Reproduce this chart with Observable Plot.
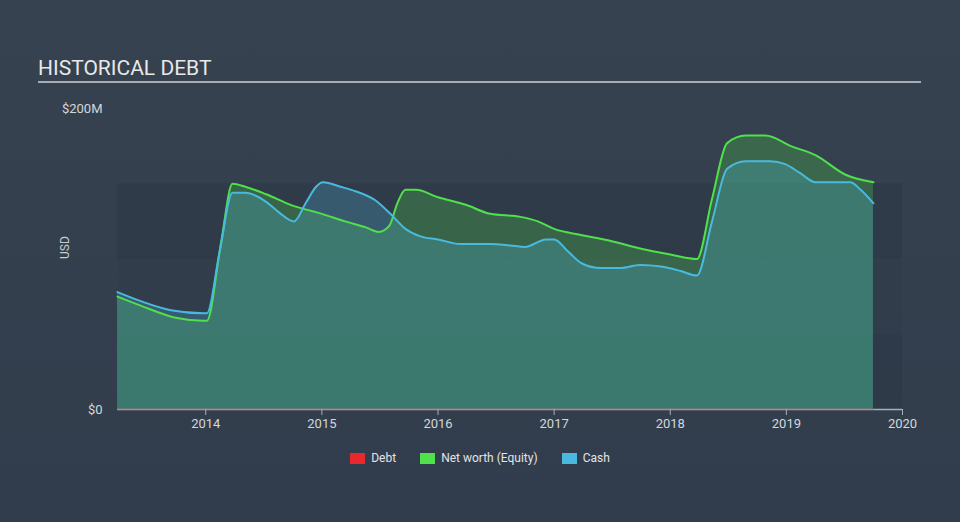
<!DOCTYPE html>
<html>
<head>
<meta charset="utf-8">
<script src="https://cdn.jsdelivr.net/npm/d3@7"></script>
<script src="https://cdn.jsdelivr.net/npm/@observablehq/plot@0.6"></script>
<style>
  html, body { margin: 0; padding: 0; }
  body { width: 960px; height: 522px; overflow: hidden; font-family: Roboto, "Noto Sans", sans-serif; }
  #wrap { position: relative; width: 960px; height: 522px; background: linear-gradient(#36424f, #313d4c); }
  #title { position: absolute; left: 38px; top: 56px; width: 883px; font-size: 21px; line-height: 24px; color: #e8e8e8; border-bottom: 2px solid #a9adb3; padding-bottom: 1px; }
  #chart { position: absolute; left: 0; top: 90px; }
  #legend { position: absolute; top: 451px; left: 0; width: 960px; display: flex; justify-content: center; font-size: 12px; color: #e2e4e6; }
  .item { display: flex; align-items: center; margin: 0 12px 0 12px; }
  .sw { width: 15px; height: 11px; margin-right: 6px; }
</style>
</head>
<body>
<div id="wrap">
  <div id="title">HISTORICAL DEBT</div>
  <div id="chart"></div>
  <div id="legend"></div>
</div>
<script>
// Data (years as decimal, values in $M)
const cashYears = [2013.24, 2013.44, 2013.70, 2013.98, 2014.01, 2014.12, 2014.23, 2014.34, 2014.52, 2014.63, 2014.76, 2014.86, 2014.95, 2015.01, 2015.16, 2015.29, 2015.46, 2015.59, 2015.72, 2015.85, 2016.00, 2016.19, 2016.45, 2016.62, 2016.75, 2016.93, 2017.00, 2017.12, 2017.24, 2017.40, 2017.57, 2017.74, 2017.92, 2018.09, 2018.23, 2018.36, 2018.49, 2018.65, 2018.86, 2018.99, 2019.12, 2019.25, 2019.42, 2019.55, 2019.64, 2019.75];
const cashValues = [78, 72, 66, 64, 64, 105, 144, 144, 138, 131, 125, 137, 148, 151, 148, 145, 139, 130, 120, 115, 113, 110, 110, 109, 108, 113, 113, 105, 97, 94, 94, 96, 95, 92, 89, 125, 160, 165, 165, 163, 157, 151, 151, 151, 146, 137];

const equityYears = [2013.24, 2013.44, 2013.74, 2013.98, 2014.01, 2014.13, 2014.23, 2014.34, 2014.52, 2014.73, 2015.00, 2015.20, 2015.38, 2015.49, 2015.58, 2015.65, 2015.72, 2015.81, 2016.00, 2016.24, 2016.45, 2016.71, 2016.86, 2017.00, 2017.23, 2017.49, 2017.74, 2018.00, 2018.23, 2018.36, 2018.49, 2018.65, 2018.82, 2019.04, 2019.25, 2019.51, 2019.75];
const equityValues = [75, 69, 61, 59, 59, 110, 150, 148, 143, 136, 130, 125, 121, 118, 122, 137, 146, 146, 141, 136, 130, 128, 125, 120, 116, 112, 107, 103, 100, 140, 177, 182, 182, 175, 169, 156, 151];

const debtYears = [2013.24, 2019.75];
const debtValues = [0, 0];

const xTicks = [2014, 2015, 2016, 2017, 2018, 2019, 2020];
const yTicks = [0, 200];
const yTickLabels = ["$0", "$200M"];
const bands = [[0, 50, 0.16], [50, 100, 0.07], [100, 150, 0.16]];

const legendNames = ["Debt", "Net worth (Equity)", "Cash"];
const legendColors = ["#e8282b", "#4fe04b", "#4ab9de"];

const cash = cashYears.map((x, i) => ({x, v: cashValues[i]}));
const equity = equityYears.map((x, i) => ({x, v: equityValues[i]}));
const debt = debtYears.map((x, i) => ({x, v: debtValues[i]}));
const bandData = bands.map(([y1, y2, o]) => ({y1, y2, o}));

const xMin = 2013.24, xMax = 2020;

const chart = Plot.plot({
  width: 960,
  height: 350,
  marginLeft: 117,
  marginRight: 58,
  marginTop: 18,
  marginBottom: 31,
  style: { background: "transparent", fontFamily: "Roboto, 'Noto Sans', sans-serif", fontSize: "13px", color: "#c9cdd2", overflow: "visible" },
  x: { domain: [xMin, xMax], label: null },
  y: { domain: [0, 200], label: null },
  marks: [
    Plot.rectY(bandData, { x1: xMin, x2: xMax, y1: "y1", y2: "y2", fill: "#1e2835", fillOpacity: "o" }),
    Plot.areaY(equity, { x: "x", y: "v", curve: "monotone-x", fill: "#4fe04b", fillOpacity: 0.25 }),
    Plot.areaY(cash, { x: "x", y: "v", curve: "monotone-x", fill: "#4ab9de", fillOpacity: 0.25 }),
    Plot.lineY(equity, { x: "x", y: "v", curve: "monotone-x", stroke: "#4fe04b", strokeWidth: 2 }),
    Plot.lineY(cash, { x: "x", y: "v", curve: "monotone-x", stroke: "#4ab9de", strokeWidth: 2 }),
    Plot.ruleY([0], { stroke: "#a9aeb6", strokeWidth: 1.5 }),
    Plot.lineY(debt, { x: "x", y: "v", stroke: "#e8282b", strokeWidth: 1.5, strokeOpacity: 0.35 }),
    Plot.axisX({ ticks: xTicks, tickFormat: d => String(d), tickSize: 6, tickPadding: 3, stroke: "#a9aeb6", color: "#d4d7db", fontSize: 13, label: null }),
    Plot.axisY({ ticks: yTicks, tickFormat: (d) => yTickLabels[yTicks.indexOf(d)], tickSize: 0, tickPadding: 15, color: "#d4d7db", label: null, fontSize: 13 }),
    Plot.text(["USD"], { frameAnchor: "left", text: d => d, rotate: -90, dx: -52, fill: "#c9cdd2", fontSize: 12 })
  ]
});
document.getElementById("chart").appendChild(chart);

const legend = document.getElementById("legend");
legendNames.forEach((n, i) => {
  const it = document.createElement("div");
  it.className = "item";
  it.innerHTML = `<span class="sw" style="background:${legendColors[i]}"></span><span>${n}</span>`;
  legend.appendChild(it);
});
</script>
</body>
</html>
